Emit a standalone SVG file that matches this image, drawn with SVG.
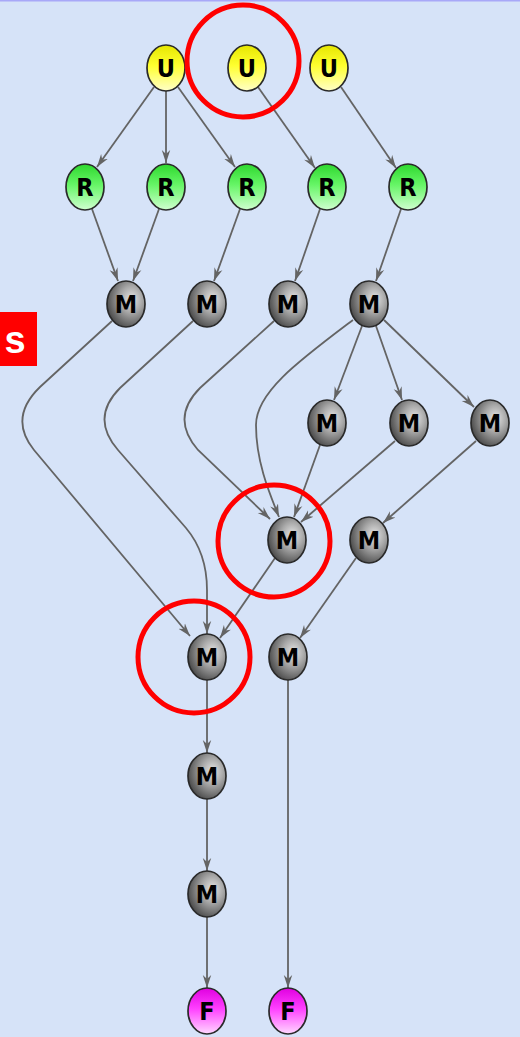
<svg xmlns="http://www.w3.org/2000/svg" width="520" height="1037" viewBox="0 0 520 1037">
<style>
.e{fill:none;stroke:#646464;stroke-width:1.8;marker-end:url(#arr)}
.n{stroke:#2a2a2a;stroke-width:1.7}
.t{font-family:"Liberation Sans Narrow","DejaVu Sans Condensed","Liberation Sans",sans-serif;font-weight:bold;font-size:25px;fill:#000;text-anchor:middle}
.u{fill:url(#gU)}.r{fill:url(#gR)}.m{fill:url(#gM)}.f{fill:url(#gF)}
.ring{fill:none;stroke:#ff0000;stroke-width:5}
</style>
<defs>
<marker id="arr" markerWidth="14" markerHeight="10" refX="13" refY="5" orient="auto" markerUnits="userSpaceOnUse">
<path d="M0,0.8 L13,5 L0,9.2 L4,5 z" fill="#646464"/>
</marker>
<linearGradient id="gU" x1="0" y1="0" x2="0" y2="1">
<stop offset="0" stop-color="#e6e600"/><stop offset="0.45" stop-color="#ffff30"/><stop offset="1" stop-color="#ffffc8"/>
</linearGradient>
<linearGradient id="gR" x1="0" y1="0" x2="0" y2="1">
<stop offset="0" stop-color="#2ed82e"/><stop offset="0.45" stop-color="#66f566"/><stop offset="1" stop-color="#d0ffd0"/>
</linearGradient>
<linearGradient id="gF" x1="0" y1="0" x2="0" y2="1">
<stop offset="0" stop-color="#e000e0"/><stop offset="0.45" stop-color="#ff40ff"/><stop offset="1" stop-color="#ffd8ff"/>
</linearGradient>
<radialGradient id="gM" cx="0.64" cy="0.4" r="0.72">
<stop offset="0" stop-color="#e6e6e6"/><stop offset="0.4" stop-color="#a8a8a8"/><stop offset="1" stop-color="#3c3c3c"/>
</radialGradient>
</defs>
<rect x="0" y="0" width="520" height="1037" fill="#d6e3f8"/>
<rect x="0" y="0" width="520" height="1.5" fill="#a8a8f8"/>
<g id="connectors">
<path class="e" d="M154,87 L97,167"/>
<path class="e" d="M166,91 L166,163"/>
<path class="e" d="M178,87 L235,167"/>
<path class="e" d="M258,87 L315,168"/>
<path class="e" d="M341,87 L396,168"/>
<path class="e" d="M92,209 L118,281"/>
<path class="e" d="M159,209 L133,281"/>
<path class="e" d="M240,209 L214,281"/>
<path class="e" d="M320,209 L295,281"/>
<path class="e" d="M401,209 L376,281"/>
<path class="e" d="M362,326 L334,400"/>
<path class="e" d="M376,326 L402,400"/>
<path class="e" d="M384,320 L474,407"/>
<path class="e" d="M112,321 L40,387 Q8,418 34,450 L190,636"/>
<path class="e" d="M193,321 L120,388 Q90,418 118,450 L186,528 Q207,553 207,590 L207,634"/>
<path class="e" d="M274,321 L200,388 Q170,418 198,450 L270,519"/>
<path class="e" d="M353,320 C300,360 256,392 256,425 C256,460 268,490 279,517"/>
<path class="e" d="M320,445 L294,517"/>
<path class="e" d="M395,441 L301,522"/>
<path class="e" d="M476,441 L383,523"/>
<path class="e" d="M275,558 L220,638"/>
<path class="e" d="M356,558 L300,638"/>
<path class="e" d="M207,680 L207,753"/>
<path class="e" d="M207,799 L207,871"/>
<path class="e" d="M207,917 L207,988"/>
<path class="e" d="M288,680 L288,988"/>
</g>
<g id="u1"><ellipse class="n u" cx="166" cy="68" rx="19" ry="23"/><text class="t" x="166" y="77">U</text></g>
<g id="u2"><ellipse class="n u" cx="247" cy="68" rx="19" ry="23"/><text class="t" x="247" y="77">U</text></g>
<g id="u3"><ellipse class="n u" cx="329" cy="68" rx="19" ry="23"/><text class="t" x="329" y="77">U</text></g>
<g id="r1"><ellipse class="n r" cx="85" cy="187" rx="19" ry="23"/><text class="t" x="85" y="196">R</text></g>
<g id="r2"><ellipse class="n r" cx="166" cy="187" rx="19" ry="23"/><text class="t" x="166" y="196">R</text></g>
<g id="r3"><ellipse class="n r" cx="247" cy="187" rx="19" ry="23"/><text class="t" x="247" y="196">R</text></g>
<g id="r4"><ellipse class="n r" cx="327" cy="187" rx="19" ry="23"/><text class="t" x="327" y="196">R</text></g>
<g id="r5"><ellipse class="n r" cx="408" cy="187" rx="19" ry="23"/><text class="t" x="408" y="196">R</text></g>
<g id="m1a"><ellipse class="n m" cx="126" cy="304" rx="19" ry="23"/><text class="t" x="126" y="313">M</text></g>
<g id="m1b"><ellipse class="n m" cx="207" cy="304" rx="19" ry="23"/><text class="t" x="207" y="313">M</text></g>
<g id="m1c"><ellipse class="n m" cx="288" cy="304" rx="19" ry="23"/><text class="t" x="288" y="313">M</text></g>
<g id="m1d"><ellipse class="n m" cx="369" cy="304" rx="19" ry="23"/><text class="t" x="369" y="313">M</text></g>
<g id="m2a"><ellipse class="n m" cx="327" cy="423" rx="19" ry="23"/><text class="t" x="327" y="432">M</text></g>
<g id="m2b"><ellipse class="n m" cx="409" cy="423" rx="19" ry="23"/><text class="t" x="409" y="432">M</text></g>
<g id="m2c"><ellipse class="n m" cx="490" cy="423" rx="19" ry="23"/><text class="t" x="490" y="432">M</text></g>
<g id="m3a"><ellipse class="n m" cx="287" cy="540" rx="19" ry="23"/><text class="t" x="287" y="549">M</text></g>
<g id="m3b"><ellipse class="n m" cx="369" cy="540" rx="19" ry="23"/><text class="t" x="369" y="549">M</text></g>
<g id="m4a"><ellipse class="n m" cx="207" cy="657" rx="19" ry="23"/><text class="t" x="207" y="666">M</text></g>
<g id="m4b"><ellipse class="n m" cx="288" cy="657" rx="19" ry="23"/><text class="t" x="288" y="666">M</text></g>
<g id="m5"><ellipse class="n m" cx="207" cy="776" rx="19" ry="23"/><text class="t" x="207" y="785">M</text></g>
<g id="m6"><ellipse class="n m" cx="207" cy="894" rx="19" ry="23"/><text class="t" x="207" y="903">M</text></g>
<g id="f1"><ellipse class="n f" cx="207" cy="1011" rx="19" ry="23"/><text class="t" x="207" y="1020">F</text></g>
<g id="f2"><ellipse class="n f" cx="288" cy="1011" rx="19" ry="23"/><text class="t" x="288" y="1020">F</text></g>
<g id="annotations">
<circle class="ring" cx="243" cy="61" r="56"/>
<circle class="ring" cx="274" cy="541" r="56"/>
<circle class="ring" cx="194" cy="657" r="56"/>
<g id="label-s"><rect x="0" y="312" width="37" height="54" fill="#ff0000"/><text x="15" y="353" font-family="Liberation Sans,Arial,sans-serif" font-weight="bold" font-size="38" fill="#ffffff" text-anchor="middle">s</text></g>
</g>
</svg>
